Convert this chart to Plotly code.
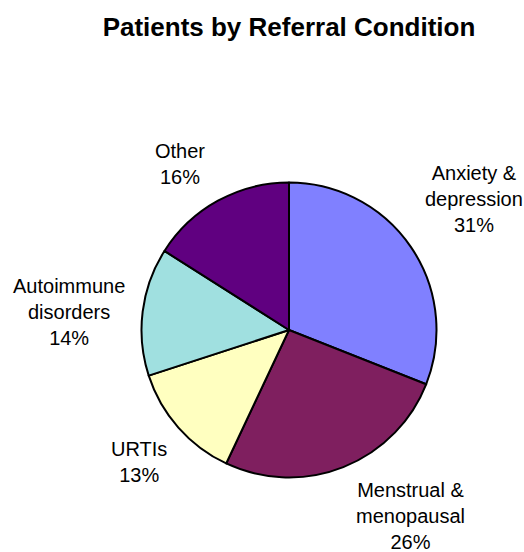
import math
import plotly.graph_objects as go

labels = ["Anxiety &<br>depression", "Menstrual &<br>menopausal", "URTIs", "Autoimmune<br>disorders", "Other"]
values = [31, 26, 13, 14, 16]
colors = ["#8080FF", "#7F1F5F", "#FFFFC0", "#A0E0E0", "#600080"]

# layout geometry (pixels)
W, H = 524, 552
cx, cy, r = 289, 330, 147.5
label_factor = 1.5
label_nudge = [(2, -7), (40, -20), (16, -14), (0, 10), (-2, 28)]  # px styling tweaks

FONT = "Liberation Sans, Arial, sans-serif"

fig = go.Figure(go.Pie(
    labels=labels, values=values, sort=False, direction="clockwise", rotation=0,
    marker=dict(colors=colors, line=dict(color="#000000", width=2)),
    textinfo="none", hoverinfo="label+percent", showlegend=False,
    domain=dict(x=[(cx - r) / W, (cx + r) / W], y=[1 - (cy + r) / H, 1 - (cy - r) / H]),
))

total = sum(values)
cum = 0
annotations = []
for lab, v, (dx, dy) in zip(labels, values, label_nudge):
    mid = (cum + v / 2) / total * 2 * math.pi
    cum += v
    px = cx + r * label_factor * math.sin(mid) + dx
    py = cy - r * label_factor * math.cos(mid) + dy
    pct = round(v / total * 100)
    annotations.append(dict(
        x=px / W, y=1 - py / H, xref="paper", yref="paper",
        text=f"{lab}<br>{pct}%", showarrow=False, align="center",
        xanchor="center", yanchor="middle",
        font=dict(family=FONT, size=20, color="#000000"),
    ))

fig.update_layout(
    width=W, height=H, margin=dict(l=0, r=0, t=0, b=0),
    paper_bgcolor="#FFFFFF", plot_bgcolor="#FFFFFF",
    title=dict(text="<b>Patients by Referral Condition</b>", x=289 / W, xanchor="center",
               y=1 - 27 / H, yanchor="middle",
               font=dict(family=FONT, size=26, color="#000000")),
    annotations=annotations,
)

fig.write_html("out.html", config={"displayModeBar": False},
               post_script="document.body.style.margin='0';")
